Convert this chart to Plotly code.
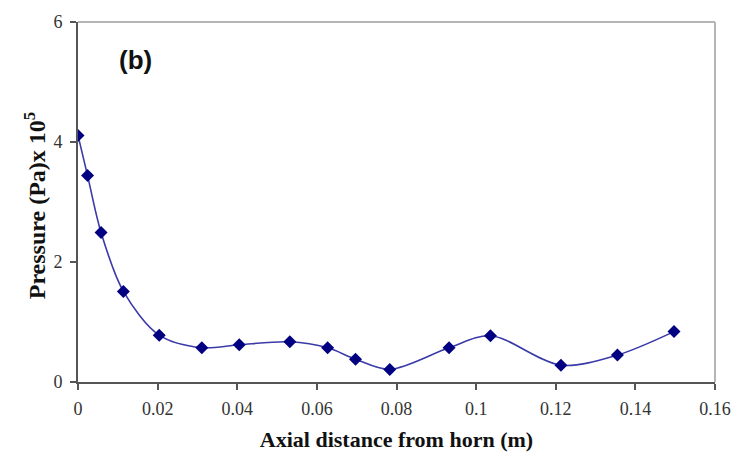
import plotly.graph_objects as go

# Axial distance from the horn tip (m) and measured acoustic pressure (x 10^5 Pa)
distance_m = [0.0, 0.0024, 0.0058, 0.0114, 0.0204, 0.0311, 0.0405, 0.0532,
              0.0627, 0.0697, 0.0783, 0.0932, 0.1036, 0.1213, 0.1355, 0.1497]
pressure_e5 = [4.11, 3.44, 2.49, 1.51, 0.78, 0.57, 0.62, 0.67,
               0.57, 0.38, 0.21, 0.57, 0.77, 0.28, 0.45, 0.84]

x_ticks = [0, 0.02, 0.04, 0.06, 0.08, 0.1, 0.12, 0.14, 0.16]
x_tick_text = ["0", "0.02", "0.04", "0.06", "0.08", "0.1", "0.12", "0.14", "0.16"]
y_ticks = [0, 2, 4, 6]

serif = "Liberation Serif, Times New Roman, serif"

fig = go.Figure()
fig.add_trace(go.Scatter(
    x=distance_m, y=pressure_e5,
    mode="lines+markers",
    line=dict(color="#3a3aa8", width=1.6, shape="spline", smoothing=0.9),
    marker=dict(symbol="diamond", size=10, color="#000080",
                line=dict(width=0)),
    showlegend=False,
))

fig.update_layout(
    width=752, height=460,
    margin=dict(l=78, r=37, t=15, b=77),
    paper_bgcolor="white", plot_bgcolor="white",
    xaxis=dict(
        range=[0, 0.16], tickvals=x_ticks, ticktext=x_tick_text,
        showgrid=False, zeroline=False,
        showline=True, linecolor="#555555", linewidth=2,
        ticks="outside", ticklen=6, tickwidth=1.5, tickcolor="#555555",
        tickfont=dict(family=serif, size=18, color="#333333"),
        ticklabelstandoff=3,
        title=dict(text="<b>Axial distance from horn (m)</b>",
                   font=dict(family=serif, size=22, color="#111111"),
                   standoff=14),
    ),
    yaxis=dict(
        range=[0, 6], tickvals=y_ticks,
        showgrid=False, zeroline=False,
        showline=True, linecolor="#555555", linewidth=2,
        ticks="outside", ticklen=6, tickwidth=1.5, tickcolor="#555555",
        tickfont=dict(family=serif, size=18, color="#333333"),
        ticklabelstandoff=4,
    ),
    shapes=[
        # light frame on the top and right of the plot area
        dict(type="line", xref="paper", yref="paper", x0=0, x1=1, y0=1, y1=1,
             line=dict(color="#b5b5b5", width=2)),
        dict(type="line", xref="paper", yref="paper", x0=1, x1=1, y0=0, y1=1,
             line=dict(color="#b5b5b5", width=2)),
    ],
    annotations=[
        dict(text="<b>Pressure (Pa)x 10<sup>5</sup></b>", xref="paper", yref="paper",
             x=-0.068, y=0.49, xanchor="center", yanchor="middle", textangle=-90,
             showarrow=False, font=dict(family=serif, size=24, color="#111111")),
        dict(text="<b>(b)</b>", xref="paper", yref="paper",
             x=0.061, y=0.895, xanchor="left", yanchor="middle",
             showarrow=False,
             font=dict(family="Liberation Sans, Arial, sans-serif", size=26,
                       color="#111111")),
    ],
)

fig.write_html("out.html")
